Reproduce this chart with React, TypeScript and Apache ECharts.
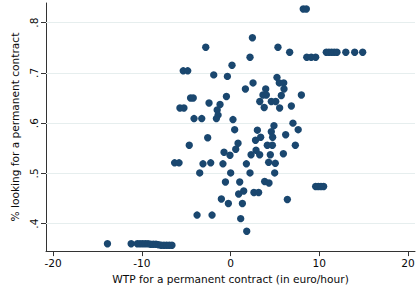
import React, { useEffect, useRef } from "react";
import * as echarts from "echarts";

// WTP for a permanent contract (euro/hour)
const wtp: number[] = [
  8.2, 8.55, 2.47, -2.79, 5.35, 6.67,
  10.8, 11.1, 11.4, 11.7, 12.0, 13.0, 14.0, 14.9,
  2.2, 8.6, 9.1, 9.6, 0.17, -5.33, -4.82, -1.89, -0.35, 5.24,
  2.54, 5.5, 6.0, 1.68, 3.97, 6.03, 3.66, 4.04, 5.73, 7.99,
  -4.5, -4.2, -0.46, 3.3, 4.6, 5.1, -2.42, -1.18, 6.86,
  -5.7, -5.25, 3.8, 5.54, -1.5, -1.4, -4.11, -3.24, -1.59, 0.28,
  7.04, 4.9, 0.47, 3.03, 7.63, 4.6, 6.22, -2.57, 3.4, 4.75, 2.82,
  0.85, -4.65, 4.15, 4.72, 7.31, 0.59, 2.88, -0.73, 5.96,
  -0.06, 2.32, 3.29, 4.49, -6.3, -5.8, -3.1, -2.23, -0.85, 1.79, 4.3, 5.05,
  -3.47, 0.02, 2.2, 4.98, -0.57, 1.04, 3.85, 4.34,
  9.6, 9.9, 10.2, 10.5,
  1.49, 2.64, 3.17, 0.92, -1.03, 6.41, -0.24, 1.34,
  -3.77, -2.08, 1.15, 1.83,
  -13.87, -11.2, -10.5, -10.2, -9.9, -9.6, -9.3, -9.0, -8.7, -8.4, -8.1,
  -7.8, -7.5, -7.2, -6.9, -6.6,
];

// share looking for a permanent contract
const share: number[] = [
  0.827, 0.827, 0.77, 0.751, 0.751, 0.741,
  0.741, 0.741, 0.741, 0.741, 0.741, 0.741, 0.741, 0.741,
  0.731, 0.731, 0.731, 0.731, 0.715, 0.704, 0.704, 0.696, 0.693, 0.691,
  0.68, 0.68, 0.68, 0.668, 0.668, 0.668, 0.656, 0.656, 0.655, 0.656,
  0.65, 0.65, 0.653, 0.643, 0.643, 0.643, 0.64, 0.637, 0.634,
  0.63, 0.63, 0.631, 0.63, 0.626, 0.616, 0.609, 0.609, 0.609, 0.607,
  0.6, 0.595, 0.587, 0.586, 0.587, 0.583, 0.577, 0.571, 0.572, 0.572, 0.566,
  0.56, 0.556, 0.556, 0.556, 0.556, 0.548, 0.546, 0.542, 0.539,
  0.536, 0.537, 0.537, 0.537, 0.521, 0.521, 0.519, 0.521, 0.519, 0.519, 0.522, 0.52,
  0.501, 0.501, 0.501, 0.501, 0.483, 0.483, 0.484, 0.481,
  0.474, 0.474, 0.474, 0.474,
  0.465, 0.462, 0.462, 0.459, 0.449, 0.448, 0.44, 0.44,
  0.417, 0.417, 0.41, 0.385,
  0.36, 0.36, 0.36, 0.36, 0.36, 0.36, 0.36, 0.359, 0.359, 0.359, 0.358,
  0.357, 0.357, 0.357, 0.357, 0.357,
];

const xTicks = [-20, -10, 0, 10, 20];
const yTicks = [0.4, 0.5, 0.6, 0.7, 0.8];
const yTickLabels = [".4", ".5", ".6", ".7", ".8"];

const xTitle = "WTP for a permanent contract (in euro/hour)";
const yTitle = "% looking for a permanent contract";

export default function App() {
  const ref = useRef<HTMLDivElement>(null);
  useEffect(() => {
    if (!ref.current) return;
    const chart = echarts.init(ref.current, undefined, { renderer: "svg" });
    const font = "DejaVu Sans";
    const textColor = "#0a0a0a";
    const points = wtp.map((x, i) => [x, share[i]]);
    chart.setOption({
      animation: false,
      backgroundColor: "#ffffff",
      grid: { left: 46, right: 5, top: 3, bottom: 32, containLabel: false },
      xAxis: {
        type: "value",
        min: -20.8,
        max: 20.8,
        name: xTitle,
        nameLocation: "middle",
        nameGap: 18.5,
        nameTextStyle: { fontFamily: font, fontSize: 10.6, color: textColor },
        axisLine: { show: true, onZero: false, lineStyle: { color: "#333", width: 1 } },
        axisTick: { show: true, length: 5, customValues: xTicks, lineStyle: { color: "#333" } },
        axisLabel: {
          customValues: xTicks,
          margin: 6,
          fontFamily: font,
          fontSize: 10.6,
          color: textColor,
        },
        splitLine: { show: false },
      },
      yAxis: {
        type: "value",
        min: 0.3454,
        max: 0.839,
        name: yTitle,
        nameLocation: "middle",
        nameGap: 14,
        nameTextStyle: { fontFamily: font, fontSize: 10.6, color: textColor },
        axisLine: { show: true, onZero: false, lineStyle: { color: "#333", width: 1 } },
        axisTick: { show: true, length: 5, customValues: yTicks, lineStyle: { color: "#333" } },
        axisLabel: {
          customValues: yTicks,
          rotate: 90,
          margin: 7,
          fontFamily: font,
          fontSize: 10.6,
          color: textColor,
          formatter: (v: number) => {
            const idx = yTicks.findIndex((t) => Math.abs(t - v) < 1e-6);
            return idx >= 0 ? yTickLabels[idx] : "";
          },
        },
        splitLine: { show: false },
      },
      series: [
        {
          type: "scatter",
          data: points,
          symbol: "circle",
          symbolSize: 7.4,
          itemStyle: { color: "#1a476f", opacity: 1 },
          silent: true,
          z: 3,
          markLine: {
            silent: true,
            symbol: ["none", "none"],
            label: { show: false },
            lineStyle: { color: "#e6eeee", width: 1, type: "solid" },
            data: yTicks.map((t) => ({ yAxis: t })),
            z: 1,
          },
        },
      ],
    });
    return () => chart.dispose();
  }, []);
  return (
    <div
      ref={ref}
      style={{ position: "fixed", left: 0, top: 0, width: 420, height: 289 }}
    />
  );
}
